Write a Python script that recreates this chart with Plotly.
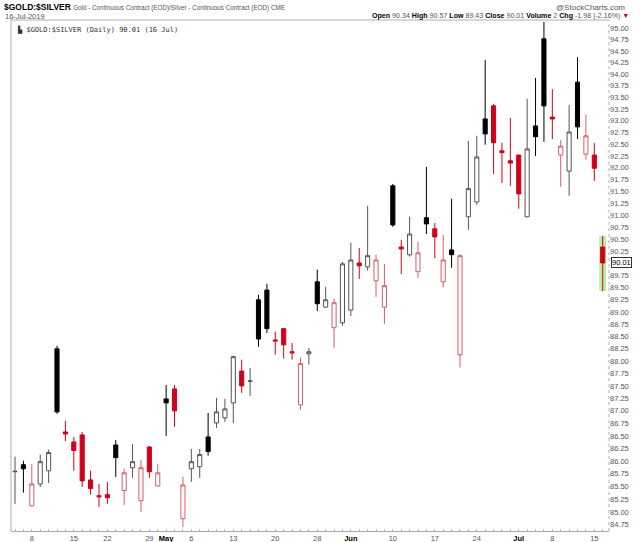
import math
import plotly.graph_objects as go

# daily GOLD:SILVER ratio, Apr 4 - Jul 16 2019
dates = [
    "2019-04-04", "2019-04-05", "2019-04-08", "2019-04-09", "2019-04-10", "2019-04-11", "2019-04-12",
    "2019-04-15", "2019-04-16", "2019-04-17", "2019-04-18", "2019-04-22", "2019-04-23", "2019-04-24",
    "2019-04-25", "2019-04-26", "2019-04-29", "2019-04-30", "2019-05-01", "2019-05-02", "2019-05-03",
    "2019-05-06", "2019-05-07", "2019-05-08", "2019-05-09", "2019-05-10", "2019-05-13", "2019-05-14",
    "2019-05-15", "2019-05-16", "2019-05-17", "2019-05-20", "2019-05-21", "2019-05-22", "2019-05-23",
    "2019-05-24", "2019-05-28", "2019-05-29", "2019-05-30", "2019-05-31", "2019-06-03", "2019-06-04",
    "2019-06-05", "2019-06-06", "2019-06-07", "2019-06-10", "2019-06-11", "2019-06-12", "2019-06-13",
    "2019-06-14", "2019-06-17", "2019-06-18", "2019-06-19", "2019-06-20", "2019-06-21", "2019-06-24",
    "2019-06-25", "2019-06-26", "2019-06-27", "2019-06-28", "2019-07-01", "2019-07-02", "2019-07-03",
    "2019-07-05", "2019-07-08", "2019-07-09", "2019-07-10", "2019-07-11", "2019-07-12", "2019-07-15",
    "2019-07-16",
]
opens = [
    85.79, 85.93, 85.12, 85.55, 85.81, 88.25, 86.58, 86.38, 86.52, 85.63, 85.32, 85.34, 86.32, 85.42,
    85.87, 85.22, 86.28, 85.51, 87.24, 87.44, 84.87, 85.85, 85.89, 86.48, 86.76, 86.86, 87.16, 87.80,
    87.59, 89.25, 89.45, 88.43, 88.66, 88.19, 87.12, 88.15, 89.62, 89.10, 88.68, 88.78, 89.04, 90.01,
    89.93, 89.64, 89.10, 91.62, 90.34, 90.18, 89.83, 90.95, 90.72, 89.62, 90.28, 88.13, 90.97, 91.28,
    93.04, 93.32, 92.36, 92.15, 92.27, 90.97, 92.89, 94.77, 93.08, 92.27, 91.93, 93.83, 92.29, 92.27,
    90.34,
]
highs = [
    86.09, 86.01, 85.95, 86.13, 86.23, 88.31, 86.80, 86.48, 86.58, 85.81, 85.55, 85.59, 86.42, 85.85,
    86.34, 86.03, 86.30, 85.95, 87.52, 87.52, 85.69, 86.24, 86.24, 86.96, 87.26, 87.24, 88.11, 88.03,
    87.86, 89.35, 89.58, 88.60, 88.67, 88.37, 88.07, 88.27, 89.87, 89.52, 89.27, 90.03, 90.43, 90.32,
    91.20, 90.18, 89.99, 91.66, 90.49, 90.97, 90.45, 92.02, 90.84, 90.59, 91.35, 90.19, 92.57, 92.68,
    94.31, 93.36, 92.53, 93.06, 92.28, 93.47, 93.92, 95.14, 93.68, 92.59, 93.34, 94.37, 93.13, 92.53,
    90.57,
]
lows = [
    85.16, 85.38, 85.11, 85.49, 85.57, 86.94, 86.40, 85.81, 85.49, 85.34, 85.10, 85.16, 85.69, 85.14,
    85.67, 85.00, 85.67, 85.50, 86.50, 86.68, 84.71, 85.59, 85.67, 86.11, 86.66, 86.78, 86.76, 87.36,
    87.30, 88.29, 88.57, 88.13, 88.05, 88.03, 87.02, 87.93, 89.02, 89.08, 88.27, 88.72, 88.92, 89.68,
    89.85, 89.31, 88.76, 90.76, 89.78, 90.14, 89.70, 90.61, 90.11, 89.50, 89.91, 87.87, 90.70, 91.22,
    92.49, 91.87, 91.68, 91.62, 91.14, 90.96, 92.25, 92.55, 92.61, 91.60, 91.41, 92.61, 92.17, 91.72,
    89.43,
]
closes = [
    85.80, 85.85, 85.55, 85.99, 86.17, 86.98, 86.54, 86.21, 85.61, 85.46, 85.30, 85.28, 86.07, 85.77,
    85.99, 85.87, 85.79, 85.77, 87.16, 87.00, 85.53, 85.99, 86.13, 86.19, 86.98, 87.04, 88.09, 87.50,
    87.60, 88.45, 88.66, 88.41, 88.33, 88.17, 87.95, 88.19, 89.17, 89.25, 89.19, 89.99, 90.07, 89.95,
    90.16, 90.07, 89.54, 90.80, 90.30, 90.61, 90.22, 90.82, 90.55, 90.07, 90.18, 90.16, 91.56, 92.23,
    92.72, 92.53, 92.32, 92.10, 91.45, 92.40, 92.66, 93.32, 93.04, 92.46, 92.76, 92.87, 92.68, 91.99,
    90.01,
]

# x axis labels (StockCharts style: day numbers, month names at first bar of month)
label_dates = ["2019-04-08", "2019-04-15", "2019-04-22", "2019-04-29", "2019-05-01", "2019-05-06",
               "2019-05-13", "2019-05-20", "2019-05-28", "2019-06-03", "2019-06-10", "2019-06-17",
               "2019-06-24", "2019-07-01", "2019-07-08", "2019-07-15"]
label_text = ["8", "15", "22", "29", "May", "6", "13", "20", "28", "Jun", "10", "17", "24", "Jul", "8", "15"]

FONT = "Liberation Sans, Arial, sans-serif"
RED = "#d0021b"

# split bars into the four StockCharts candle styles
styles = {
    ("hollow", "black"): dict(line="#555555", fill="white"),
    ("filled", "black"): dict(line="#000000", fill="#000000"),
    ("hollow", "red"): dict(line="#dc5a68", fill="white"),
    ("filled", "red"): dict(line=RED, fill=RED),
}
groups = {k: [] for k in styles}
for i in range(len(dates)):
    body = "hollow" if closes[i] > opens[i] else "filled"
    col = "black" if i == 0 or closes[i] >= closes[i - 1] else "red"
    groups[(body, col)].append(i)

fig = go.Figure()
for key, idx in groups.items():
    st = styles[key]
    side = dict(line=dict(color=st["line"], width=1), fillcolor=st["fill"])
    fig.add_trace(go.Candlestick(
        x=[dates[i] for i in idx],
        open=[opens[i] for i in idx],
        high=[highs[i] for i in idx],
        low=[lows[i] for i in idx],
        close=[closes[i] for i in idx],
        increasing=side, decreasing=side,
        whiskerwidth=0, showlegend=False, hoverinfo="skip",
    ))

# green range marker behind the latest bar
last = len(dates) - 1
fig.add_shape(type="rect", xref="x", yref="y", x0=last - 0.42, x1=last + 0.42,
              y0=lows[-1], y1=highs[-1], fillcolor="#b8f0ab", line_width=0, layer="below")

tickvals = []
ticktext = []
for d in dates:
    tickvals.append(d)
    if d in label_dates:
        t = label_text[label_dates.index(d)]
        ticktext.append(f"<b><span style='color:#000'>{t}</span></b>" if t.isalpha() else t)
    else:
        ticktext.append("")

ylev = [round(84.75 + 0.25 * k, 2) for k in range(42)]
ylev = [v for v in ylev if abs(v - 90.0) > 0.01]

fig.update_layout(
    width=640, height=542,
    margin=dict(l=11, r=31, t=20, b=11),
    paper_bgcolor="white", plot_bgcolor="white",
    font=dict(family=FONT, size=8, color="#555"),
    xaxis=dict(
        type="category", categoryorder="array", categoryarray=dates,
        range=[-0.48, 70.75], rangeslider=dict(visible=False), automargin=False,
        tickmode="array", tickvals=tickvals, ticktext=ticktext,
        ticks="inside", ticklen=2, tickcolor="#bbb",
        tickfont=dict(size=7.5, color="#555"),
        showgrid=False, showline=True, linecolor="#aaa", zeroline=False,
    ),
    yaxis=dict(
        type="log", side="right", automargin=False,
        range=[math.log10(84.63), math.log10(95.18)],
        tickmode="array", tickvals=ylev, ticktext=[f"{v:.2f}" for v in ylev],
        tickfont=dict(size=7.5, color="#555"), ticks="",
        showgrid=False, zeroline=False, showline=False,
    ),
)

# panel border: solid left/top/bottom, dotted price axis on the right
for x0, y0, x1, y1, dash in [(0, 0, 0, 1, "solid"), (0, 1, 1, 1, "solid"), (1, 0, 1, 1, "dot")]:
    fig.add_shape(type="line", xref="paper", yref="paper", x0=x0, y0=y0, x1=x1, y1=y1,
                  line=dict(color="#b0b0b0", width=1, dash=dash))

ann = [
    dict(x=-0.015, y=1.0254, xanchor="left",
         text="<b><span style='font-size:8.5px;color:#000'>$GOLD:$SILVER</span></b> "
              "<span style='font-size:6.3px'>Gold - Continuous Contract (EOD)/Silver - Continuous Contract (EOD) CME</span>"),
    dict(x=1.030, y=1.0254, xanchor="right", text="@StockCharts.com"),
    dict(x=-0.014, y=1.0078, xanchor="left", text="<span style='font-size:7.5px'>16-Jul-2019</span>"),
    dict(x=1.0368, y=1.0078, xanchor="right",
         text="<span style='font-size:7.1px'><b style='color:#000'>Open</b> 90.34 <b style='color:#000'>High</b> 90.57 "
              "<b style='color:#000'>Low</b> 89.43 <b style='color:#000'>Close</b> 90.01 "
              "<b style='color:#000'>Volume</b> 2 <b style='color:#000'>Chg</b> -1.98 (-2.16%) "
              f"<span style='color:{RED}'>▼</span></span>"),
    dict(x=0.006, y=0.982, xanchor="left",
         text="<span style='font-family:DejaVu Sans Mono;font-size:7px;color:#333'>▙ $GOLD:$SILVER (Daily) 90.01 (16 Jul)</span>"),
]
for a in ann:
    fig.add_annotation(xref="paper", yref="paper", yanchor="middle", showarrow=False, **a)

# last price flag on the price axis
fig.add_annotation(xref="paper", yref="y", x=1.004, y=math.log10(closes[-1]), xanchor="left",
                   text=f"{closes[-1]:.2f}", showarrow=False, font=dict(size=7.5, color="#000"),
                   bgcolor="white", bordercolor="#333", borderwidth=1, borderpad=0)

# page body has a default margin; remove it so the chart sits at the window origin
fig.write_html("out.html", config={"displayModeBar": False},
               post_script="document.body.style.margin='0';")
